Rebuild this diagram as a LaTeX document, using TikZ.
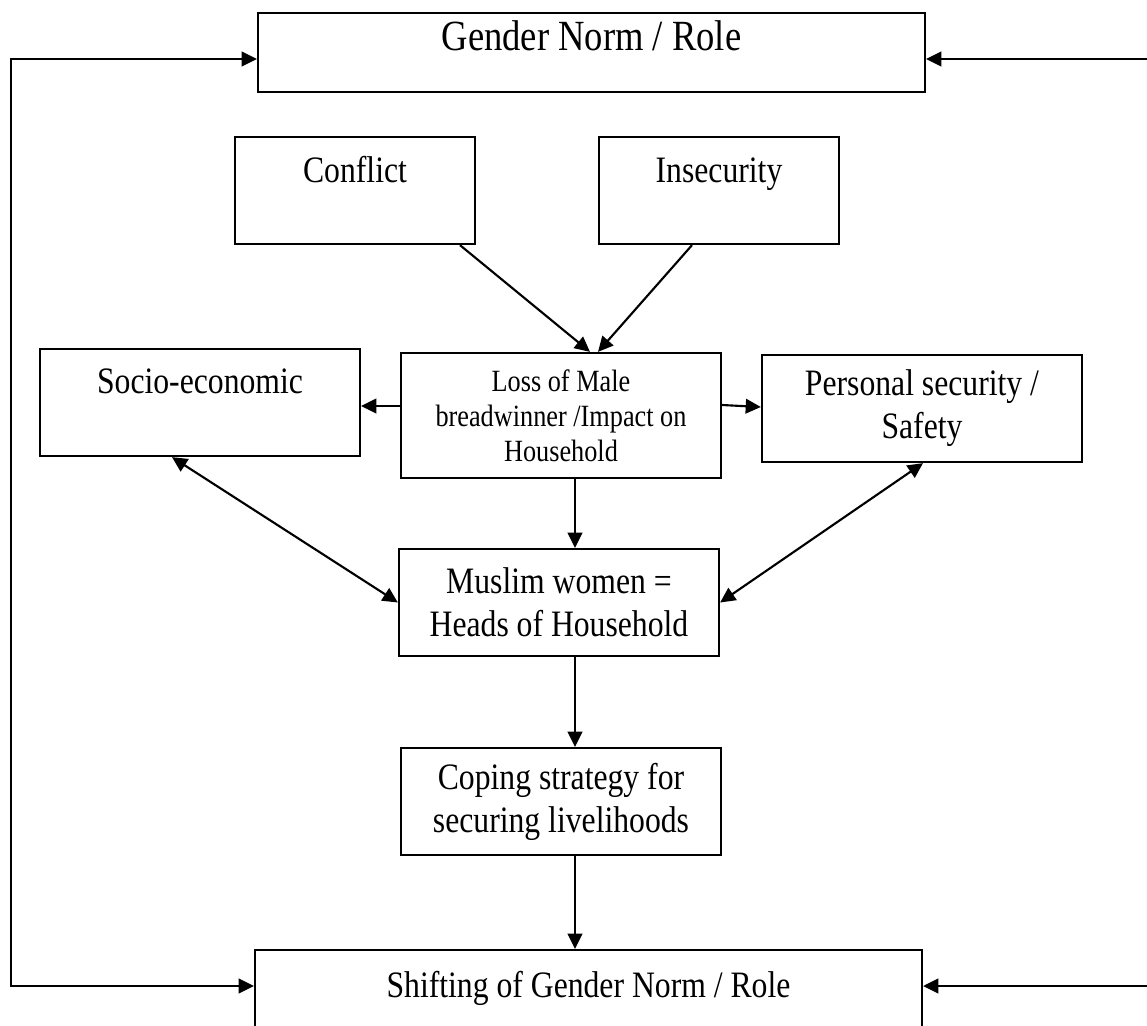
\documentclass[tikz,border=0pt]{standalone}
\usepackage{fontspec}
\setmainfont[FakeStretch=0.85]{Liberation Serif}
\usetikzlibrary{arrows.meta}

\tikzset{
  box/.style={draw, line width=0.75pt, align=center, inner sep=0pt,
    font=\fontsize{12.3}{14.2}\selectfont},
  boxsize/.style 2 args={minimum width=#1*0.33pt, minimum height=#2*0.33pt},
  toptext/.style={anchor=center, inner sep=0pt, text height=0.7em, text depth=0.2em,
    yshift=-#1*0.33pt, font=\fontsize{12.3}{14.2}\selectfont},
  arr/.style={-{Triangle[length=5pt, width=4.8pt]}, line width=0.7pt},
  arrboth/.style={{Triangle[length=5pt, width=4.8pt]}-{Triangle[length=5pt, width=4.8pt]}, line width=0.7pt},
}

\begin{document}
\begin{tikzpicture}[x=0.33pt, y=-0.33pt]
    \clip (0,0) rectangle (1147,1025);
    % boxes
    \node[box, boxsize={667}{79}, label={[toptext=31, font=\fontsize{14.2}{16}\selectfont]north:Gender Norm / Role}] (gnorm) at (591.5,52.5) {};
    \node[box, boxsize={240}{107}, label={[toptext=39]north:Conflict}] (conflict) at (355,190.5) {};
    \node[box, boxsize={240}{107}, label={[toptext=39]north:Insecurity}] (insec) at (719,190.5) {};
    \node[box, boxsize={320}{107}, label={[toptext=38]north:Socio-economic}] (socio) at (200,402.5) {};
    \node[box, boxsize={320}{125}, font=\fontsize{10.2}{11.6}\selectfont] (loss) at (561,415.5) {Loss of Male\\breadwinner /Impact on\\Household};
    \node[box, boxsize={320}{107}] (pers) at (922,408.5) {Personal security /\\Safety};
    \node[box, boxsize={320}{107}] (muslim) at (559,602.5) {Muslim women =\\Heads of Household};
    \node[box, boxsize={320}{107}] (coping) at (561,801.5) {Coping strategy for\\securing livelihoods};
    \node[box, boxsize={667}{107}, label={[toptext=41]north:Shifting of Gender Norm / Role}] (shift) at (588.5,1003.5) {};

    % feedback lines
    \coordinate (lt) at (11,59);
    \coordinate (lb) at (11,986);
    \coordinate (rt) at (1152,59);
    \coordinate (rb) at (1152,986);
    \draw[arrboth] (gnorm.west |- lt) -- (lt) -- (lb) -- (shift.west |- lb);
    \draw[arrboth] (gnorm.east |- rt) -- (rt) -- (rb) -- (shift.east |- rb);

    % causes
    \draw[arr] (conflict.south -| 460,0) -- (loss.north -| 590,0);
    \draw[arr] (insec.south -| 692,0) -- (loss.north -| 598,0);
    \draw[arr] (loss.west |- 0,406) -- (socio.east |- 0,406);
    \draw[arr] (loss.east |- 0,405) -- (pers.west |- 0,407);
    \draw[arr] (loss.south -| 575,0) -- (muslim.north -| 575,0);
    \draw[arrboth] (socio.south -| 172,0) -- (muslim.west);
    \draw[arrboth] (pers.south -| 923,0) -- (muslim.east);
    \draw[arr] (muslim.south -| 575,0) -- (coping.north -| 575,0);
    \draw[arr] (coping.south -| 575,0) -- (shift.north -| 575,0);
\end{tikzpicture}
\end{document}
